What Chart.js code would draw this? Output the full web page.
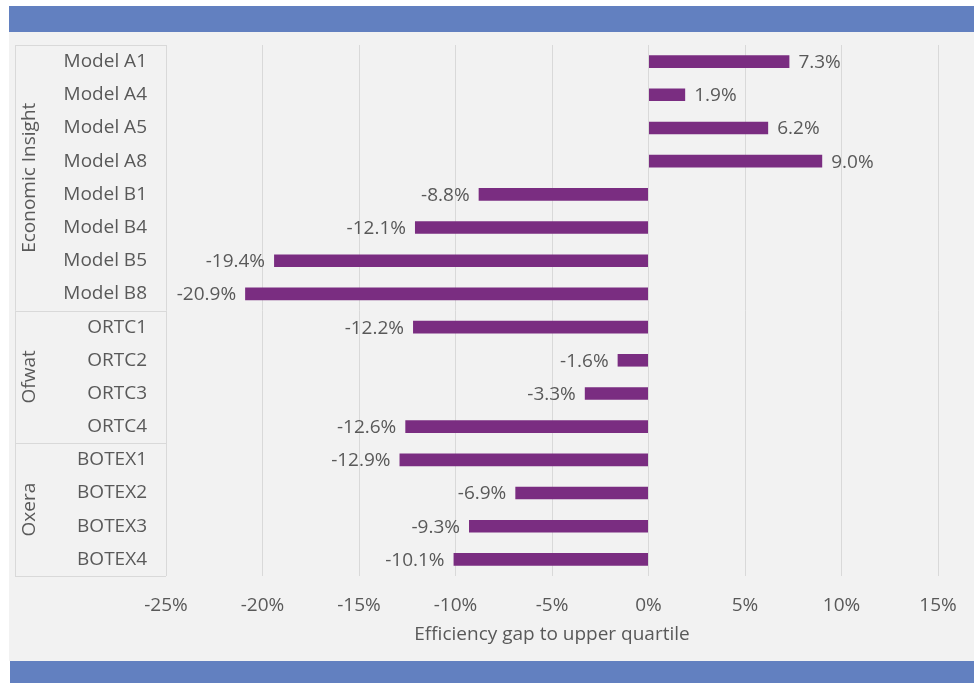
<!DOCTYPE html>
<html>
<head>
<meta charset="utf-8">
<script src="https://cdn.jsdelivr.net/npm/chart.js@4/dist/chart.umd.min.js"></script>
<style>
  html, body { margin: 0; padding: 0; background: #ffffff; }
  #wrap { position: relative; width: 977px; height: 683px; }
  canvas { display: block; }
</style>
</head>
<body>
<div id="wrap"><canvas id="chart" width="977" height="683"></canvas></div>
<script>
// Model names, top to bottom
const categories = [
  'Model A1', 'Model A4', 'Model A5', 'Model A8',
  'Model B1', 'Model B4', 'Model B5', 'Model B8',
  'ORTC1', 'ORTC2', 'ORTC3', 'ORTC4',
  'BOTEX1', 'BOTEX2', 'BOTEX3', 'BOTEX4'
];
// Efficiency gap to upper quartile, in percent
const gapValues = [
  7.3, 1.9, 6.2, 9.0,
  -8.8, -12.1, -19.4, -20.9,
  -12.2, -1.6, -3.3, -12.6,
  -12.9, -6.9, -9.3, -10.1
];
// Model groups and how many rows each one spans
const groupNames = ['Economic Insight', 'Ofwat', 'Oxera'];
const groupSizes = [8, 4, 4];
// Horizontal axis range and step (percent)
const xMin = -25;
const xMax = 15;
const xStep = 5;

const TEXT = '#595959';
const LINE = '#d9d9d9';
const FONT = '"Open Sans", "Noto Sans", sans-serif';
const FONT_SIZE = 19;

const fmt = v => v.toFixed(1) + '%';

// Page frame: grey panel with blue bands above and below
const framePlugin = {
  id: 'frame',
  beforeDraw(chart) {
    const ctx = chart.ctx;
    ctx.save();
    ctx.fillStyle = '#ffffff';
    ctx.fillRect(0, 0, chart.width, chart.height);
    ctx.fillStyle = '#f2f2f2';
    ctx.fillRect(9, 32, 965, 629);
    ctx.fillStyle = '#6280c0';
    ctx.fillRect(9, 6, 965, 26);
    ctx.fillRect(10, 661, 964, 22);
    ctx.restore();
  }
};

// Group column on the left: borders, separators and rotated group names
const groupPlugin = {
  id: 'groups',
  afterDraw(chart) {
    const ctx = chart.ctx;
    const y = chart.scales.y;
    const area = chart.chartArea;
    const left = 15;
    const right = area.left;
    ctx.save();
    ctx.strokeStyle = LINE;
    ctx.lineWidth = 1;
    ctx.beginPath();
    ctx.moveTo(left + 0.5, area.top);
    ctx.lineTo(left + 0.5, area.bottom);
    ctx.moveTo(left, Math.round(area.top) + 0.5);
    ctx.lineTo(right, Math.round(area.top) + 0.5);
    ctx.stroke();

    let start = 0;
    groupSizes.forEach((size, g) => {
      const end = start + size - 1;
      const top = start === 0 ? area.top
        : (y.getPixelForValue(start - 1) + y.getPixelForValue(start)) / 2;
      const bottom = end === categories.length - 1 ? area.bottom
        : (y.getPixelForValue(end) + y.getPixelForValue(end + 1)) / 2;
      ctx.beginPath();
      ctx.moveTo(left, Math.round(bottom) + 0.5);
      ctx.lineTo(right, Math.round(bottom) + 0.5);
      ctx.stroke();

      ctx.save();
      ctx.translate(30, (top + bottom) / 2);
      ctx.rotate(-Math.PI / 2);
      ctx.fillStyle = TEXT;
      ctx.font = FONT_SIZE + 'px ' + FONT;
      ctx.textAlign = 'center';
      ctx.textBaseline = 'middle';
      ctx.fillText(groupNames[g], 0, 0);
      ctx.restore();
      start += size;
    });
    ctx.restore();
  }
};

// Value labels at the end of each bar
const valueLabelPlugin = {
  id: 'valueLabels',
  afterDatasetsDraw(chart) {
    const ctx = chart.ctx;
    const meta = chart.getDatasetMeta(0);
    const data = chart.data.datasets[0].data;
    ctx.save();
    ctx.fillStyle = TEXT;
    ctx.font = FONT_SIZE + 'px ' + FONT;
    ctx.textBaseline = 'middle';
    meta.data.forEach((bar, i) => {
      const v = data[i];
      if (v >= 0) {
        ctx.textAlign = 'left';
        ctx.fillText(fmt(v), bar.x + 9, bar.y + 1);
      } else {
        ctx.textAlign = 'right';
        ctx.fillText(fmt(v), bar.x - 9, bar.y + 1);
      }
    });
    ctx.restore();
  }
};

new Chart(document.getElementById('chart'), {
  type: 'bar',
  data: {
    labels: categories,
    datasets: [{
      data: gapValues,
      backgroundColor: '#7a2d81',
      borderWidth: 0,
      barPercentage: 0.38,
      categoryPercentage: 1
    }]
  },
  options: {
    indexAxis: 'y',
    responsive: false,
    animation: false,
    devicePixelRatio: 1,
    layout: { padding: { top: 45, right: 39, bottom: 0, left: 0 } },
    plugins: {
      legend: { display: false },
      tooltip: { enabled: false }
    },
    scales: {
      x: {
        min: xMin,
        max: xMax,
        ticks: {
          stepSize: xStep,
          color: TEXT,
          font: { family: FONT, size: FONT_SIZE },
          padding: 18,
          callback: v => v + '%'
        },
        grid: { color: LINE, drawTicks: false },
        border: { display: false },
        title: {
          display: true,
          text: 'Efficiency gap to upper quartile',
          color: TEXT,
          font: { family: FONT, size: FONT_SIZE },
          padding: { top: 0, bottom: 37 }
        },
        afterFit(scale) { scale.height = 107; }
      },
      y: {
        ticks: {
          color: TEXT,
          font: { family: FONT, size: FONT_SIZE },
          padding: 19,
          autoSkip: false
        },
        grid: { display: false, drawTicks: false },
        border: { display: false },
        afterFit(scale) { scale.width = 166; }
      }
    }
  },
  plugins: [framePlugin, groupPlugin, valueLabelPlugin]
});
</script>
</body>
</html>
